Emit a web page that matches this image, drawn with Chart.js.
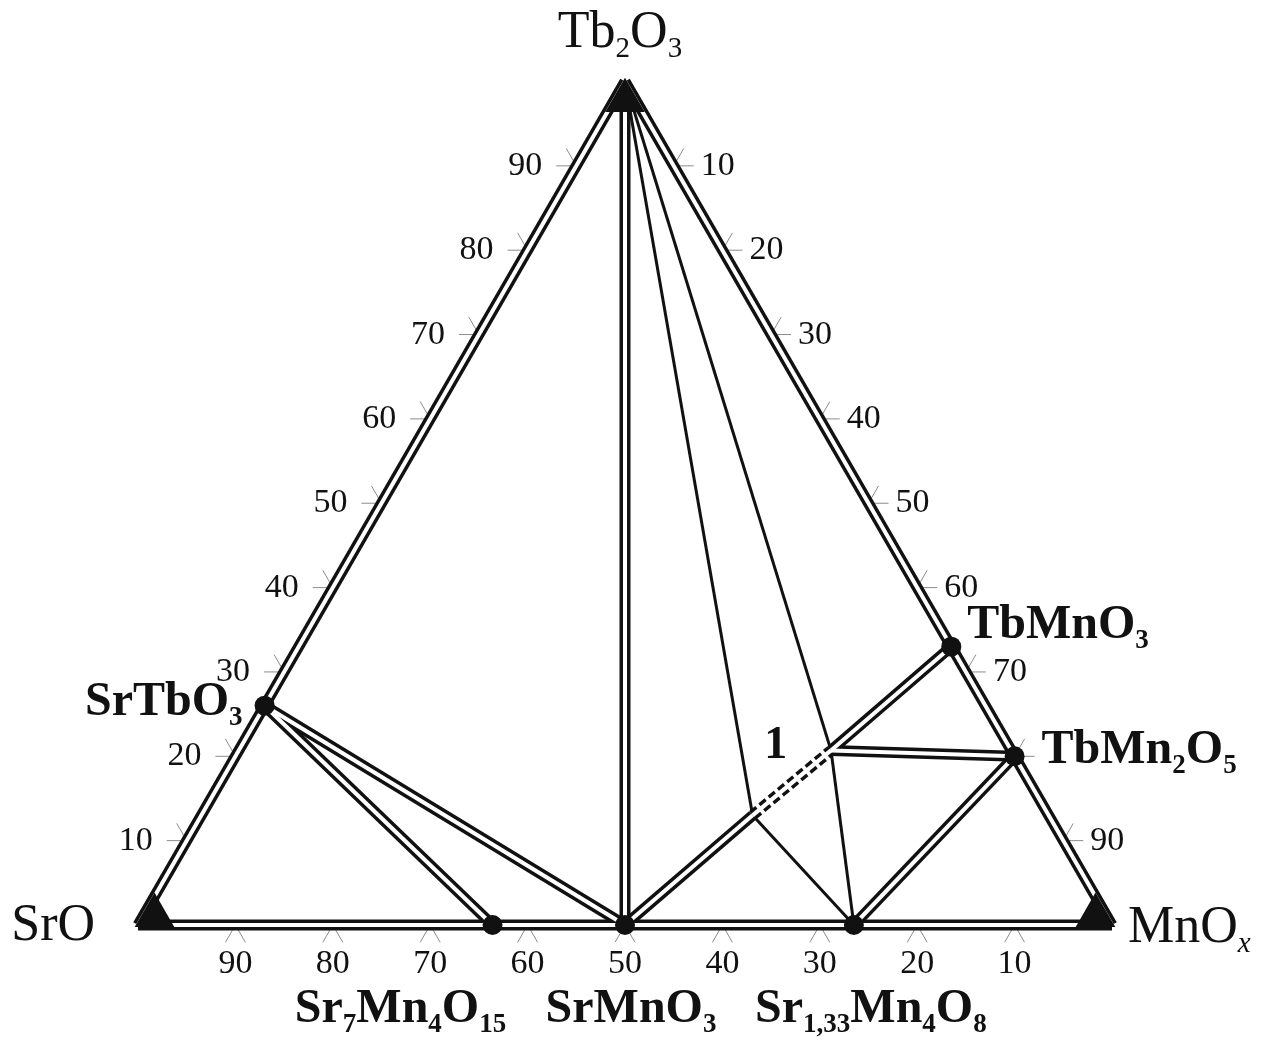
<!DOCTYPE html>
<html>
<head>
<meta charset="utf-8">
<title>SrO - Tb2O3 - MnOx</title>
<script src="https://cdn.jsdelivr.net/npm/chart.js@4/dist/chart.umd.min.js"></script>
<style>
    body { margin: 0; background: #fff; }
    canvas { display: block; }
</style>
</head>
<body>
<canvas id="diagram" width="1269" height="1043"></canvas>
<script>
// corners of the triangle, mol % SrO / Tb2O3 / MnOx
const vertexNames = ["SrO", "Tb2O3", "MnOx"];
const vertexLabels = ["SrO", "Tb_2O_3", "MnO_x"];
const vertexSrO = [100, 0, 0];
const vertexTb2O3 = [0, 100, 0];
const vertexMnOx = [0, 0, 100];

// compounds (black dots)
const phaseNames = ["SrTbO3", "Sr7Mn4O15", "SrMnO3", "Sr133Mn4O8", "TbMnO3", "TbMn2O5"];
const phaseLabels = ["SrTbO_3", "Sr_7Mn_4O_{15}", "SrMnO_3", "Sr_{1,33}Mn_4O_8", "TbMnO_3", "TbMn_2O_5"];
const phaseSrO = [74, 63.6, 50, 26.5, 0, 0];
const phaseTb2O3 = [26, 0, 0, 0, 33, 20];
const phaseMnOx = [0, 36.4, 50, 73.5, 67, 80];

// places where tie lines meet inside the triangle
const nodeNames = ["A", "B"];
const nodeSrO = [30.4, 18.5];
const nodeTb2O3 = [13, 20.7];
const nodeMnOx = [56.6, 60.8];

// tie lines
const doubleLines = [
    ["SrO", "Tb2O3"], ["Tb2O3", "MnOx"], ["SrO", "MnOx"],
    ["Tb2O3", "SrMnO3"], ["SrTbO3", "SrMnO3"], ["SrTbO3", "Sr7Mn4O15"],
    ["SrMnO3", "A"], ["B", "TbMnO3"], ["B", "TbMn2O5"], ["TbMn2O5", "Sr133Mn4O8"]
];
const dashedLines = [["A", "B"]];
const singleLines = [["Tb2O3", "A"], ["Tb2O3", "B"], ["A", "Sr133Mn4O8"], ["B", "Sr133Mn4O8"]];

// scale ticks on each side (the 80 on the right side is hidden by TbMn2O5)
const tickValues = [10, 20, 30, 40, 50, 60, 70, 80, 90];
const bottomTickLabels = ["10", "20", "30", "40", "50", "60", "70", "80", "90"];
const leftTickLabels = ["10", "20", "30", "40", "50", "60", "70", "80", "90"];
const rightTickLabels = ["10", "20", "30", "40", "50", "60", "70", "", "90"];

// field label
const fieldLabel = "1";

const INK = "#111";
const SERIF = "'Liberation Serif', 'Times New Roman', serif";
const PX = 9.74;        // pixels per 1 %
const ORIGIN_X = 138;   // pixel of the SrO corner
const ORIGIN_Y = 925;
const W = 1269, H = 1043;
const SQ3 = Math.sqrt(3) / 2;

// label placement, pixel offsets from the dot
const phaseLayout = {
    SrTbO3: { dx: -22, dy: 9, align: "right" },
    Sr7Mn4O15: { dx: -92, dy: 97, align: "center" },
    SrMnO3: { dx: 6, dy: 97, align: "center" },
    Sr133Mn4O8: { dx: 17, dy: 97, align: "center" },
    TbMnO3: { dx: 16, dy: -9, align: "left" },
    TbMn2O5: { dx: 27, dy: 7, align: "left" }
};
const vertexLayout = {
    SrO: { dx: -43, dy: 15, align: "right" },
    Tb2O3: { dx: -5, dy: -34, align: "center" },
    MnOx: { dx: 16, dy: 17, align: "left" }
};

const comp = {};
vertexNames.forEach((n, i) => comp[n] = [vertexSrO[i], vertexTb2O3[i], vertexMnOx[i]]);
phaseNames.forEach((n, i) => comp[n] = [phaseSrO[i], phaseTb2O3[i], phaseMnOx[i]]);
nodeNames.forEach((n, i) => comp[n] = [nodeSrO[i], nodeTb2O3[i], nodeMnOx[i]]);

function toXY(c) {
    return { x: c[2] + c[1] / 2, y: c[1] * SQ3 };
}
function at(name) {
    return toXY(comp[name]);
}

const datasets = [];
function addLine(pair, color, width, order, dash) {
    datasets.push({
        data: [at(pair[0]), at(pair[1])],
        showLine: true,
        pointRadius: 0,
        borderColor: color,
        borderWidth: width,
        borderDash: dash || [],
        order: order
    });
}
doubleLines.forEach(p => {
    addLine(p, INK, 11, 3);
    addLine(p, "#fff", 4, 2);
});
dashedLines.forEach(p => {
    addLine(p, INK, 11, 3, [8, 4]);
    addLine(p, "#fff", 4, 2);
});
singleLines.forEach(p => addLine(p, INK, 3, 3));
datasets.push({
    data: phaseNames.map(at),
    pointRadius: 10,
    pointBackgroundColor: INK,
    pointBorderWidth: 0,
    order: 0
});

function parseFormula(str) {
    const parts = [];
    const re = /_\{([^}]*)\}|_(.)|([^_]+)/g;
    let m;
    while ((m = re.exec(str))) {
        if (m[3]) parts.push({ text: m[3], sub: false });
        else parts.push({ text: m[1] || m[2], sub: true });
    }
    return parts;
}

function drawFormula(ctx, str, x, y, st) {
    const parts = parseFormula(str);
    const fontOf = p => {
        const italic = p.sub && /[a-z]/.test(p.text) ? "italic " : "";
        const size = p.sub ? st.sub : st.size;
        return italic + (st.bold ? "bold " : "") + size + "px " + SERIF;
    };
    let total = 0;
    parts.forEach(p => {
        ctx.font = fontOf(p);
        p.w = ctx.measureText(p.text).width;
        total += p.w;
    });
    let cx = x;
    if (st.align === "center") cx = x - total / 2;
    if (st.align === "right") cx = x - total;
    ctx.textAlign = "left";
    ctx.textBaseline = "alphabetic";
    ctx.fillStyle = INK;
    parts.forEach(p => {
        ctx.font = fontOf(p);
        ctx.fillText(p.text, cx, p.sub ? y + st.shift : y);
        cx += p.w;
    });
}

const ternaryDecor = {
    id: "ternaryDecor",
    beforeDatasetsDraw(chart) {
        const ctx = chart.ctx;
        const sx = chart.scales.x, sy = chart.scales.y;
        const pix = c => {
            const p = toXY(c);
            return { x: sx.getPixelForValue(p.x), y: sy.getPixelForValue(p.y) };
        };
        const sides = [
            { c: v => [v, 0, 100 - v], dirs: [[-0.5, SQ3], [0.5, SQ3]] },
            { c: v => [100 - v, v, 0], dirs: [[-1, 0], [-0.5, -SQ3]] },
            { c: v => [0, 100 - v, v], dirs: [[1, 0], [0.5, -SQ3]] }
        ];
        ctx.save();
        ctx.strokeStyle = "#8c8c8c";
        ctx.lineWidth = 1;
        sides.forEach(side => {
            tickValues.forEach(v => {
                const p = pix(side.c(v));
                side.dirs.forEach(d => {
                    ctx.beginPath();
                    ctx.moveTo(p.x, p.y);
                    ctx.lineTo(p.x + d[0] * 20, p.y + d[1] * 20);
                    ctx.stroke();
                });
            });
        });
        ctx.restore();
    },
    afterDatasetsDraw(chart) {
        const ctx = chart.ctx;
        const sx = chart.scales.x, sy = chart.scales.y;
        const pix = c => {
            const p = toXY(c);
            return { x: sx.getPixelForValue(p.x), y: sy.getPixelForValue(p.y) };
        };
        const pixOf = name => pix(comp[name]);

        // black triangles in the corners
        const corners = vertexNames.map(pixOf);
        ctx.save();
        ctx.fillStyle = INK;
        corners.forEach((v, i) => {
            const a = corners[(i + 1) % 3], b = corners[(i + 2) % 3];
            const s = 33 / 974;
            const pts = [v,
                { x: v.x + s * (a.x - v.x), y: v.y + s * (a.y - v.y) },
                { x: v.x + s * (b.x - v.x), y: v.y + s * (b.y - v.y) }];
            const gx = (pts[0].x + pts[1].x + pts[2].x) / 3;
            const gy = (pts[0].y + pts[1].y + pts[2].y) / 3;
            ctx.beginPath();
            pts.forEach((p, k) => {
                const px = gx + 1.2 * (p.x - gx), py = gy + 1.2 * (p.y - gy);
                if (k === 0) ctx.moveTo(px, py); else ctx.lineTo(px, py);
            });
            ctx.closePath();
            ctx.fill();
        });
        ctx.restore();

        // tick labels
        ctx.save();
        ctx.fillStyle = INK;
        ctx.font = "34px " + SERIF;
        ctx.textBaseline = "alphabetic";
        tickValues.forEach((v, i) => {
            let p = pix([v, 0, 100 - v]);
            ctx.textAlign = "center";
            ctx.fillText(bottomTickLabels[i], p.x, p.y + 48);
            p = pix([100 - v, v, 0]);
            ctx.textAlign = "right";
            ctx.fillText(leftTickLabels[i], p.x - 34, p.y + 9);
            p = pix([0, 100 - v, v]);
            ctx.textAlign = "left";
            ctx.fillText(rightTickLabels[i], p.x + 27, p.y + 9);
        });
        ctx.restore();

        // corner names
        vertexNames.forEach((n, i) => {
            const p = pixOf(n), l = vertexLayout[n];
            drawFormula(ctx, vertexLabels[i], p.x + l.dx, p.y + l.dy,
                { size: 52, sub: 29, shift: 10, bold: false, align: l.align });
        });

        // compound names
        phaseNames.forEach((n, i) => {
            const p = pixOf(n), l = phaseLayout[n];
            drawFormula(ctx, phaseLabels[i], p.x + l.dx, p.y + l.dy,
                { size: 48, sub: 27, shift: 10, bold: true, align: l.align });
        });

        // field number between A and B
        const a = pixOf("A"), b = pixOf("B");
        drawFormula(ctx, fieldLabel, (a.x + b.x) / 2 - 16, (a.y + b.y) / 2 - 25,
            { size: 46, sub: 26, shift: 10, bold: true, align: "center" });
    }
};

new Chart(document.getElementById("diagram").getContext("2d"), {
    type: "scatter",
    data: { datasets: datasets },
    options: {
        responsive: false,
        animation: false,
        events: [],
        layout: { padding: 0, autoPadding: false },
        plugins: {
            legend: { display: false },
            tooltip: { enabled: false }
        },
        scales: {
            x: { type: "linear", display: false, min: -ORIGIN_X / PX, max: (W - ORIGIN_X) / PX },
            y: { type: "linear", display: false, min: -(H - ORIGIN_Y) / PX, max: ORIGIN_Y / PX }
        }
    },
    plugins: [ternaryDecor]
});
</script>
</body>
</html>
